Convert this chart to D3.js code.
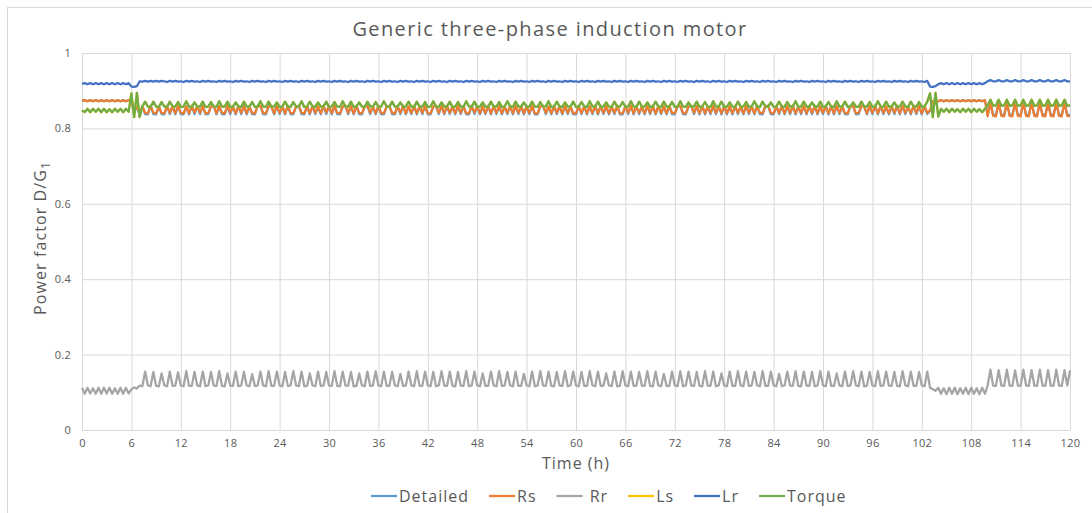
<!DOCTYPE html>
<html>
<head>
<meta charset="utf-8">
<script src="https://cdn.jsdelivr.net/npm/d3@7"></script>
<style>
    body { margin: 0; background: #ffffff; }
    text { font-family: 'Open Sans', sans-serif; fill: #595959; }
</style>
</head>
<body>
<script>

var chartTitle = 'Generic three-phase induction motor'
var seriesNames = ['Detailed', 'Rs', ' Rr', 'Ls', 'Lr', 'Torque']
var seriesColors = ['#5b9bd5', '#ed7d31', '#a5a5a5', '#ffc000', '#4472c4', '#70ad47']
var xTickValues = [0, 6, 12, 18, 24, 30, 36, 42, 48, 54, 60, 66, 72, 78, 84, 90, 96, 102, 108, 114, 120]
var yTickValues = [0, 0.2, 0.4, 0.6, 0.8, 1]

// one sample every 20 minutes, power factor x 1000
var stepHours = 1 / 3

var detailedPF = [
    873,875,872,875,872,875,872,875,872,875,872,875,872,875,872,875,872,875,872,844,856,837,859,838,837,860,838,837,858,838,
    837,860,838,859,837,860,838,837,858,837,860,838,859,838,860,837,838,858,860,837,859,838,837,860,838,858,837,860,838,859,
    837,858,838,837,860,860,838,837,859,858,837,860,838,859,837,860,838,837,858,860,838,837,859,837,860,838,858,837,860,838,
    859,837,860,838,837,858,860,838,859,837,860,838,837,858,860,838,859,837,860,838,837,858,860,838,837,859,838,860,837,858,
    838,860,837,859,838,860,837,837,858,860,838,859,837,860,838,858,837,860,838,859,837,837,860,838,859,837,858,838,860,837,
    860,838,859,837,858,838,860,837,860,838,859,837,858,838,860,837,837,859,860,838,858,837,860,838,859,837,860,838,858,837,
    837,860,838,859,837,858,838,860,837,860,838,859,837,858,838,860,837,837,859,838,860,837,859,838,858,837,860,838,860,837,
    859,838,858,837,860,838,837,859,860,838,837,858,860,838,859,837,860,837,858,838,860,838,859,837,860,837,858,837,860,838,
    858,837,860,838,859,837,860,838,837,859,860,838,837,858,838,860,837,859,838,860,837,858,838,860,837,859,838,860,837,858,
    838,860,837,859,837,860,838,858,838,837,860,859,837,838,860,858,837,859,838,860,837,860,838,858,837,859,838,860,837,860,
    838,858,837,860,838,859,837,860,838,846,872,875,872,875,872,875,872,875,872,875,872,875,872,875,872,875,872,875,872,875,
    836,867,836,836,867,836,836,867,836,836,867,836,836,867,836,836,867,836,836,867,836,836,867,836,836,867,836,836,867,836,836
]

var rsPF = [
    873,875,872,875,872,875,872,875,872,875,872,875,872,875,872,875,872,875,872,846,858,840,859,841,840,860,842,840,858,841,
    840,860,841,859,840,860,841,840,858,840,860,842,859,841,860,840,841,858,860,840,859,841,840,860,842,858,840,860,841,859,
    840,858,841,840,860,860,841,840,859,858,840,860,841,859,840,860,841,840,858,860,841,840,859,840,860,841,858,840,860,842,
    859,840,860,841,840,858,860,841,859,840,860,841,840,858,860,841,859,840,860,841,840,858,860,841,840,859,841,860,840,858,
    841,860,840,859,841,860,840,840,858,860,841,859,840,860,841,858,840,860,841,859,840,840,860,842,859,840,858,841,860,840,
    860,841,859,840,858,841,860,840,860,841,859,840,858,841,860,840,840,859,860,841,858,840,860,841,859,840,860,841,858,840,
    840,860,841,859,840,858,841,860,840,860,841,859,840,858,841,860,840,840,859,841,860,840,859,841,858,840,860,841,860,840,
    859,841,858,840,860,841,840,859,860,841,840,858,860,841,859,840,860,840,858,841,860,841,859,840,860,840,858,840,860,841,
    858,840,860,841,859,840,860,841,840,859,860,841,840,858,841,860,840,859,841,860,840,858,841,860,840,859,841,860,840,858,
    841,860,840,859,840,860,841,858,841,840,860,859,840,841,860,858,840,859,841,860,840,860,841,858,840,859,841,860,840,860,
    841,858,840,860,841,859,840,860,841,848,872,875,872,875,872,875,872,875,872,875,872,875,872,875,872,875,872,875,872,875,
    832,869,833,832,869,833,832,869,833,832,869,833,832,869,833,832,869,833,832,869,833,832,869,833,832,869,833,832,869,833,832
]

var rrPF = [
    112,96,112,97,111,96,112,96,112,97,112,96,111,96,112,96,112,97,108,113,110,118,116,155,118,116,154,117,116,150,
    118,116,155,117,118,153,118,116,156,117,117,154,118,116,155,116,118,154,118,117,156,117,116,150,118,117,155,116,118,154,
    118,116,148,117,118,155,118,116,156,117,117,155,118,116,154,117,118,156,118,116,155,116,117,150,118,116,155,117,118,154,
    118,117,156,117,116,155,118,118,154,116,117,150,118,116,155,117,118,156,118,116,155,117,117,154,118,116,149,117,118,155,
    118,116,156,117,117,155,118,116,154,116,118,156,118,117,155,117,116,154,118,117,156,116,118,155,118,116,150,117,117,155,
    118,116,156,117,118,154,118,116,155,117,117,149,118,116,155,116,118,156,118,117,155,117,116,154,118,117,156,116,118,155,
    118,116,154,117,117,156,118,116,155,117,118,150,118,116,155,116,117,156,118,116,155,117,118,154,118,117,156,117,116,155,
    118,116,149,117,117,155,118,116,156,116,118,155,118,117,154,117,116,156,118,117,155,116,118,150,118,116,155,117,117,156,
    118,116,155,117,118,154,118,116,156,117,117,155,118,116,149,116,118,155,118,117,156,117,116,155,118,117,154,116,118,156,
    118,116,155,117,117,150,118,116,155,117,118,156,118,116,155,116,117,154,118,116,156,117,118,155,118,117,154,117,116,156,
    118,116,155,117,117,154,118,116,155,112,108,104,112,96,111,95,112,96,112,95,111,96,112,95,112,96,111,95,112,96,
    118,160,118,117,159,118,117,160,118,117,158,118,117,160,118,117,159,118,117,160,118,117,159,118,117,160,118,117,159,118,158
]

var torquePF = [
    848,843,852,843,852,844,852,843,852,843,851,843,852,844,852,843,852,844,893,830,894,830,858,871,858,857,871,858,857,870,
    858,857,871,858,858,870,857,858,872,858,857,869,858,858,871,857,858,870,858,857,872,858,858,871,857,858,869,858,857,871,
    858,858,870,857,858,872,858,857,871,858,858,869,857,858,871,858,857,870,858,858,872,857,858,871,858,857,869,858,858,871,
    857,858,870,858,857,872,858,858,871,857,858,869,858,857,871,858,858,870,857,858,872,858,857,871,858,858,869,857,858,871,
    858,857,871,858,858,870,857,858,872,858,857,869,858,858,871,857,858,870,858,857,872,858,858,871,857,858,869,858,857,871,
    858,858,870,857,858,872,858,857,871,858,858,869,857,858,871,858,857,870,858,858,872,857,858,871,858,857,869,858,858,871,
    857,858,870,858,857,872,858,858,871,857,858,869,858,857,871,858,858,870,857,858,872,858,857,871,858,858,869,857,858,871,
    858,857,871,858,858,870,857,858,872,858,857,869,858,858,871,857,858,870,858,857,872,858,858,871,857,858,869,858,857,871,
    858,858,870,857,858,872,858,857,871,858,858,869,857,858,871,858,857,870,858,858,872,857,858,871,858,857,869,858,858,871,
    857,858,870,858,857,872,858,858,871,857,858,869,858,857,871,858,858,870,857,858,872,858,857,871,858,858,869,857,858,871,
    858,857,871,858,858,870,857,858,871,893,830,894,831,852,844,852,843,852,844,851,843,852,844,852,843,852,844,851,843,852,
    861,876,860,861,876,860,861,876,860,861,876,860,861,876,860,861,876,860,861,876,860,861,876,860,861,876,860,861,876,860,861
]

// Ls is drawn before Torque and sits exactly beneath it, so it never shows
var lsPF = torquePF

var lrPF = [
    918,920,917,920,917,920,917,920,917,920,917,920,917,920,917,920,917,920,911,910,912,925,924,926,924,926,924,926,924,926,
    925,923,926,924,926,924,925,923,926,924,926,924,925,923,926,924,926,924,925,923,926,924,926,924,925,923,926,924,926,924,
    925,923,926,924,926,924,925,923,926,924,926,924,925,923,926,924,926,924,925,923,926,924,926,924,925,923,926,924,926,924,
    925,923,926,924,926,924,925,923,926,924,926,924,925,923,926,924,926,924,925,923,926,924,926,924,925,923,926,924,926,924,
    925,923,926,924,926,924,925,923,926,924,926,924,925,923,926,924,926,924,925,923,926,924,926,924,925,923,926,924,926,924,
    925,923,926,924,926,924,925,923,926,924,926,924,925,923,926,924,926,924,925,923,926,924,926,924,925,923,926,924,926,924,
    925,923,926,924,926,924,925,923,926,924,926,924,925,923,926,924,926,924,925,923,926,924,926,924,925,923,926,924,926,924,
    925,923,926,924,926,924,925,923,926,924,926,924,925,923,926,924,926,924,925,923,926,924,926,924,925,923,926,924,926,924,
    925,923,926,924,926,924,925,923,926,924,926,924,925,923,926,924,926,924,925,923,926,924,926,924,925,923,926,924,926,924,
    925,923,926,924,926,924,925,923,926,924,926,924,925,923,926,924,926,924,925,923,926,924,926,924,925,923,926,924,926,924,
    925,923,926,924,926,924,925,923,926,911,910,912,917,920,917,920,917,920,917,920,917,920,917,920,917,920,917,920,917,920,
    925,928,925,925,928,925,925,928,925,925,928,925,925,928,925,925,928,925,925,928,925,925,928,925,925,928,925,925,928,925,925
]

var seriesValues = [detailedPF, rsPF, rrPF, lsPF, lrPF, torquePF]

function drawLineChart(chartAreaWidth, chartAreaHeight) {

    var left = 82
    var right = 1070
    var top = 53
    var bottom = 430

    var svg = d3.select('body')
                    .append('svg')
                        .attr('width', chartAreaWidth)
                        .attr('height', chartAreaHeight)

    // chart frame
    svg.append('rect')
            .attr('x', 7.5)
            .attr('y', 7.5)
            .attr('width', chartAreaWidth)
            .attr('height', chartAreaHeight)
            .attr('fill', 'none')
            .attr('stroke', '#d9d9d9')

    var xscale = d3.scaleLinear()
                    .domain([0, 120])
                    .range([left, right])

    var yscale = d3.scaleLinear()
                    .domain([0, 1])
                    .range([bottom, top])

    var x_axis = d3.axisBottom()
                    .scale(xscale)
                    .tickValues(xTickValues)
                    .tickSizeInner(-(bottom - top))
                    .tickSizeOuter(0)
                    .tickPadding(9)
                    .tickFormat(d3.format('d'))

    var y_axis = d3.axisLeft()
                    .scale(yscale)
                    .tickValues(yTickValues)
                    .tickSizeInner(-(right - left))
                    .tickSizeOuter(0)
                    .tickPadding(11)
                    .tickFormat(function(d) { return d3.format('~g')(d) })

    svg.append('g')
        .attr('transform', 'translate(0, ' + bottom + ')')
        .call(x_axis)

    svg.append('g')
        .attr('transform', 'translate(' + left + ', 0)')
        .call(y_axis)

    svg.selectAll('.domain').remove()
    svg.selectAll('.tick line')
            .attr('stroke', '#d9d9d9')
            .attr('stroke-width', 1)
    svg.selectAll('.tick text')
            .style('font-size', '11px')
            .style('letter-spacing', '0.3px')
            .attr('fill', '#595959')

    var line = d3.line()
                    .x(function(d, i) { return xscale(i * stepHours) })
                    .y(function(d) { return yscale(d / 1000) })

    svg.append('g')
        .selectAll('path')
        .data(seriesValues)
        .enter()
            .append('path')
                .attr('d', line)
                .attr('fill', 'none')
                .attr('stroke', function(d, i) { return seriesColors[i] })
                .attr('stroke-width', 2.25)
                .attr('stroke-linejoin', 'round')

    // titles
    svg.append('text')
            .attr('x', 550)
            .attr('y', 36)
            .attr('text-anchor', 'middle')
            .style('font-size', '20px')
            .style('letter-spacing', '1.4px')
            .text(chartTitle)

    svg.append('text')
            .attr('x', 576)
            .attr('y', 469)
            .attr('text-anchor', 'middle')
            .style('font-size', '16px')
            .style('letter-spacing', '1px')
            .text('Time (h)')

    var ylabel = svg.append('text')
            .attr('transform', 'translate(46, 238) rotate(-90)')
            .attr('text-anchor', 'middle')
            .style('font-size', '16px')
            .style('letter-spacing', '1.1px')
    ylabel.append('tspan').text('Power factor D/G')
    ylabel.append('tspan')
            .attr('dy', 4)
            .style('font-size', '12px')
            .text('1')

    // legend
    var legendX = 371
    var legendY = 496
    seriesNames.forEach(function(name, i) {
        svg.append('line')
                .attr('x1', legendX)
                .attr('x2', legendX + 26)
                .attr('y1', legendY)
                .attr('y2', legendY)
                .attr('stroke', seriesColors[i])
                .attr('stroke-width', 2.25)
        var label = svg.append('text')
                .attr('x', legendX + 28)
                .attr('y', legendY + 6)
                .style('font-size', '16px')
                .style('letter-spacing', '1px')
                .style('white-space', 'pre')
                .text(name)
        legendX = legendX + 28 + label.node().getComputedTextLength() + 20
    })

}

drawLineChart(1092, 513)

</script>
</body>
</html>
